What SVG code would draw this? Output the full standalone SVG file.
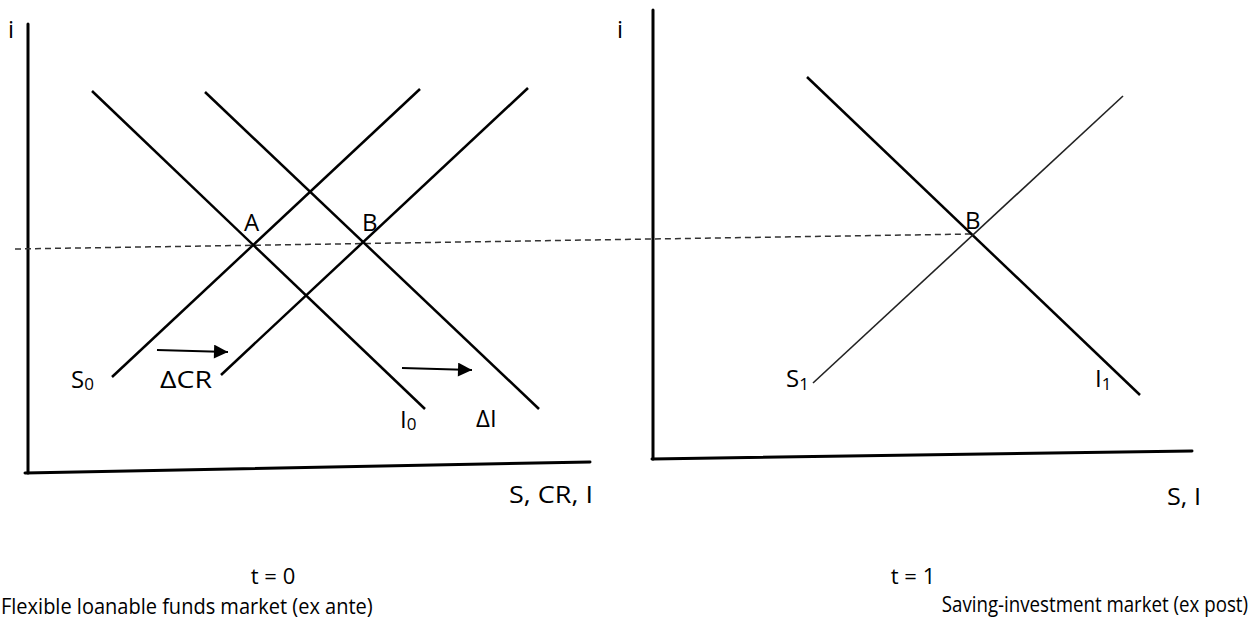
<svg xmlns="http://www.w3.org/2000/svg" width="1255" height="626" viewBox="0 0 1255 626">
<style>
.ax{stroke:#000;stroke-width:3;fill:none;stroke-linecap:round}
.cv{stroke:#000;stroke-width:2.5;fill:none}
.cvt{stroke:#222;stroke-width:1.6;fill:none}
.dash{stroke:#333;stroke-width:1.5;stroke-dasharray:6 4;fill:none}
.arr{stroke:#000;stroke-width:1.8;fill:none}
text{font-family:"Open Sans","Liberation Sans",sans-serif;fill:#000}
.lb{font-size:24px}
.sub{font-size:17px}
.ft{font-size:22px}
</style>
<defs>
<marker id="ah2" viewBox="0 0 10 10" refX="10" refY="5" markerWidth="17" markerHeight="14" markerUnits="userSpaceOnUse" orient="auto">
<path d="M0,0 L10,5 L0,10 z" fill="#000"/>
</marker>
</defs>
<g id="left-axes">
<line class="ax" x1="28" y1="24" x2="28" y2="473"/>
<line class="ax" x1="25" y1="473" x2="590" y2="462"/>
<text class="lb" x="8" y="38">i</text>
<text class="lb" x="509" y="503" textLength="84" lengthAdjust="spacingAndGlyphs">S, CR, I</text>
</g>
<g id="right-axes">
<line class="ax" x1="653" y1="10" x2="653" y2="459"/>
<line class="ax" x1="652" y1="459" x2="1192" y2="451"/>
<text class="lb" x="617" y="38">i</text>
<text class="lb" x="1167" y="505" textLength="34" lengthAdjust="spacingAndGlyphs">S, I</text>
</g>
<g id="connectors">
<line class="dash" x1="15" y1="249" x2="971" y2="234"/>
<line class="cv" x1="92" y1="91" x2="425" y2="409"/>
<line class="cv" x1="205" y1="92" x2="539" y2="409"/>
<line class="cv" x1="112" y1="377" x2="420" y2="89"/>
<line class="cv" x1="221" y1="375" x2="528" y2="88"/>
<line class="cv" x1="807" y1="77" x2="1140" y2="395"/>
<line class="cvt" x1="813" y1="383" x2="1123" y2="96"/>
<line class="arr" x1="157" y1="350" x2="228" y2="352" marker-end="url(#ah2)"/>
<line class="arr" x1="402" y1="368" x2="472" y2="370" marker-end="url(#ah2)"/>
</g>
<g id="point-A"><text class="lb" x="244" y="231">A</text></g>
<g id="point-B-left"><text class="lb" x="362" y="231">B</text></g>
<g id="point-B-right"><text class="lb" x="965" y="229">B</text></g>
<g id="label-S0"><text class="lb" x="71" y="388">S<tspan class="sub" dy="2">0</tspan></text></g>
<g id="label-dCR"><text class="lb" x="160" y="388" textLength="52" lengthAdjust="spacingAndGlyphs">ΔCR</text></g>
<g id="label-I0"><text class="lb" x="400" y="428">I<tspan class="sub" dy="2">0</tspan></text></g>
<g id="label-dI"><text class="lb" x="476" y="427">ΔI</text></g>
<g id="label-S1"><text class="lb" x="786" y="387">S<tspan class="sub" dy="3">1</tspan></text></g>
<g id="label-I1"><text class="lb" x="1095" y="387">I<tspan class="sub" dy="3">1</tspan></text></g>
<g id="captions">
<text class="ft" x="273" y="584" text-anchor="middle">t = 0</text>
<text class="ft" transform="translate(1,614) scale(0.91,1)">Flexible loanable funds market (ex ante)</text>
<text class="ft" x="913" y="584" text-anchor="middle">t = 1</text>
<text class="ft" transform="translate(1248,612) scale(0.85,1)" text-anchor="end">Saving-investment market (ex post)</text>
</g>
</svg>
